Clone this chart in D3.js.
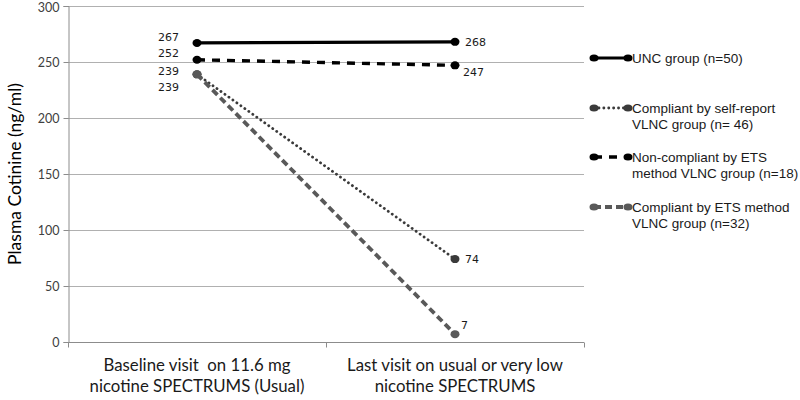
<!DOCTYPE html>
<html><head><meta charset="utf-8">
<script src="https://cdn.jsdelivr.net/npm/d3@7"></script>
<style>body{margin:0;background:#fff}svg{display:block}text{white-space:pre}</style>
</head><body><svg id="c" width="800" height="400"></svg>
<script>
const categories = [["Baseline visit  on 11.6 mg","nicotine SPECTRUMS (Usual)"],["Last visit on usual or very low","nicotine SPECTRUMS"]];
const seriesNames = [["UNC group (n=50)"],["Compliant by self-report","VLNC group (n= 46)"],["Non-compliant by ETS","method VLNC group (n=18)"],["Compliant by ETS method","VLNC group (n=32)"]];
const unc = [267, 268];
const selfReport = [239, 74];
const nonCompliant = [252, 247];
const compliantETS = [239, 7];
const yTicks = [0, 50, 100, 150, 200, 250, 300];

const series = [
  {name: seriesNames[0], values: unc, color: "#000", width: 3.2, dash: null, cap: "butt", lab: [[-18,-6],[10,0]]},
  {name: seriesNames[1], values: selfReport, color: "#3a3a3a", width: 2.8, dash: "0.1,4.8", cap: "round", lab: [[-18,-3],[10,0]]},
  {name: seriesNames[2], values: nonCompliant, color: "#000", width: 3.4, dash: "8,7", cap: "butt", lab: [[-18,-7],[8,7]]},
  {name: seriesNames[3], values: compliantETS, color: "#595959", width: 3.8, dash: "7,4", cap: "butt", lab: [[-18,13],[6,-9]]}
];

const svg = d3.select("#c");
const m = {l: 68, r: 584, t: 6, b: 342};
const x = d3.scaleBand().domain([0,1]).range([m.l, m.r]);
const y = d3.scaleLinear().domain([0,300]).range([m.b, m.t]);
const px = i => x(i) + x.bandwidth()/2;
const calib = "Lato, 'Open Sans', sans-serif";

// gridlines
svg.append("g").selectAll("line").data(yTicks.filter(d=>d>0)).join("line")
  .attr("x1", m.l).attr("x2", m.r).attr("y1", d=>y(d)+0.5).attr("y2", d=>y(d)+0.5)
  .attr("stroke", "#b0b0b0").attr("stroke-width", 1);

// y axis
const ya = svg.append("g").attr("transform", `translate(${m.l+0.5},0)`)
  .call(d3.axisLeft(y).tickValues(yTicks).tickSize(5).tickPadding(4));
ya.select(".domain").attr("stroke", "#8c8c8c");
ya.selectAll(".tick line").attr("stroke", "#8c8c8c");
ya.selectAll("text").attr("font-family", calib).attr("font-size", 12.5).attr("fill", "#404040")
  .attr("dy", d => d === 300 ? "0.45em" : "0.32em");

// x axis
const xa = svg.append("g").attr("transform", `translate(0,${m.b+0.5})`);
xa.append("line").attr("x1", m.l).attr("x2", m.r).attr("stroke", "#8c8c8c");
xa.selectAll("line.t").data([m.l, x(1), m.r]).join("line").attr("class","t")
  .attr("x1", d=>d+0.5).attr("x2", d=>d+0.5).attr("y1", 0).attr("y2", 5).attr("stroke", "#8c8c8c");
categories.forEach((c, i) => {
  const t = xa.append("text").attr("text-anchor", "middle")
    .attr("font-family", calib).attr("font-size", 16.8).attr("fill", "#1a1a1a");
  c.forEach((line, j) => t.append("tspan").attr("x", px(i)).attr("y", 28 + j*21.5).text(line));
});

// y title
svg.append("text").attr("transform", `translate(21,${(m.t+m.b)/2}) rotate(-90)`)
  .attr("text-anchor", "middle").attr("font-family", calib)
  .attr("font-size", 17.5).attr("fill", "#000").text("Plasma Cotinine (ng/ml)");

// lines
const line = d3.line().x((d,i)=>px(i)).y(d=>y(d));
series.forEach(s => {
  svg.append("path").datum(s.values).attr("d", line).attr("fill", "none")
    .attr("stroke", s.color).attr("stroke-width", s.width)
    .attr("stroke-dasharray", s.dash).attr("stroke-linecap", s.cap);
  svg.append("g").selectAll("ellipse").data(s.values).join("ellipse")
    .attr("cx", (d,i)=>px(i)).attr("cy", d=>y(d)).attr("rx", 4.5).attr("ry", 4).attr("fill", s.color);
});
// data labels
series.forEach(s => {
  s.values.forEach((v, i) => {
    svg.append("text").attr("x", px(i) + s.lab[i][0]).attr("y", y(v) + s.lab[i][1])
      .attr("dy", "0.35em").attr("text-anchor", i === 0 ? "end" : "start")
      .attr("font-family", "'DejaVu Sans', Verdana, sans-serif").attr("font-size", 11).attr("fill", "#1a1a1a")
      .text(v);
  });
});

// legend
const legY = [58, 108, 157, 207];
series.forEach((s, k) => {
  const g = svg.append("g").attr("transform", `translate(0,${legY[k]})`);
  g.append("line").attr("x1", 594).attr("x2", 628).attr("y1", 0).attr("y2", 0)
    .attr("stroke", s.color).attr("stroke-width", s.width).attr("stroke-dasharray", s.dash)
    .attr("stroke-linecap", s.cap);
  g.selectAll("ellipse").data([594, 628]).join("ellipse").attr("cx", d=>d).attr("cy", 0)
    .attr("rx", 4.5).attr("ry", 3.5).attr("fill", s.color);
  const t = g.append("text").attr("font-family", "'Liberation Sans', Arial, sans-serif")
    .attr("font-size", 13.5).attr("fill", "#1a1a1a");
  s.name.forEach((ln, j) => t.append("tspan").attr("x", 632).attr("y", j*16).attr("dy", "0.35em").text(ln));
});
</script></body></html>
